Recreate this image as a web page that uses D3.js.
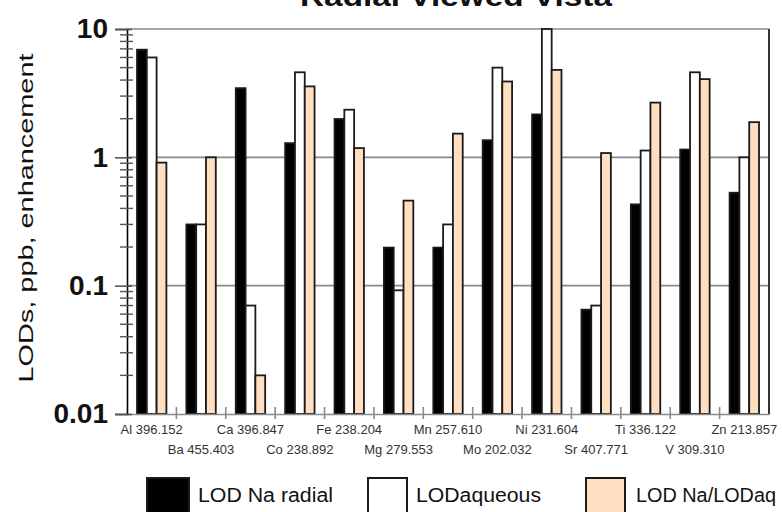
<!DOCTYPE html>
<html><head><meta charset="utf-8">
<script src="https://cdn.jsdelivr.net/npm/d3@7/dist/d3.min.js"></script>
<style>body{margin:0;background:#fff;} svg{display:block;}</style>
</head><body>
<svg id="c" width="782" height="512"></svg>
<script>
const title = "Radial Viewed Vista";
const yTitle = "LODs, ppb, enhancement";
const categories = ["Al 396.152","Ba 455.403","Ca 396.847","Co 238.892","Fe 238.204","Mg 279.553","Mn 257.610","Mo 202.032","Ni 231.604","Sr 407.771","Ti 336.122","V 309.310","Zn 213.857"];
const naRadial = [6.9,0.30,3.46,1.29,1.99,0.198,0.198,1.36,2.16,0.065,0.43,1.15,0.53];
const aqueous  = [6.0,0.30,0.070,4.6,2.35,0.092,0.30,5.0,10,0.070,1.13,4.6,1.0];
const ratio    = [0.91,1.0,0.020,3.57,1.18,0.46,1.53,3.9,4.8,1.08,2.67,4.07,1.88];
const seriesNames = ["LOD Na radial","LODaqueous","LOD Na/LODaq"];
const yTicks = [0.01,0.1,1,10];
const yTickLabels = ["0.01","0.1","1","10"];

const fills = ["#000000","#ffffff","#ffdfbf"];
const svg = d3.select("#c");
const L=127,R=769,T=29,B=414;
const x = d3.scaleBand().domain(categories).range([L,R]).padding(0);
const y = d3.scaleLog().domain([0.01,10]).range([B,T]);
const series=[naRadial,aqueous,ratio];

// title (cropped at top, as in the reference)
svg.append("text").attr("x",456).attr("y",6).attr("text-anchor","middle")
  .attr("font-family","Liberation Sans, Arial, sans-serif").attr("font-weight","bold")
  .attr("font-size",28).attr("textLength",312).attr("lengthAdjust","spacingAndGlyphs")
  .attr("fill","#111").text(title);

// gridlines
svg.append("g").selectAll("line").data([0.1,1,10]).join("line")
  .attr("x1",L).attr("x2",R).attr("y1",d=>y(d)).attr("y2",d=>y(d))
  .attr("stroke","#8a8a8a").attr("stroke-width",1.6);

// bars
const bw=9.8, off=10;
series.forEach((s,si)=>{
  svg.append("g").selectAll("rect").data(s).join("rect")
    .attr("x",(d,i)=>x(categories[i])+off+si*bw)
    .attr("y",d=>y(d))
    .attr("width",bw)
    .attr("height",d=>B-y(d))
    .attr("fill",fills[si]).attr("stroke","#1a1a1a").attr("stroke-width",1.8);
});

// right border
svg.append("line").attr("x1",R).attr("x2",R).attr("y1",T).attr("y2",B)
  .attr("stroke","#333").attr("stroke-width",2);

// x axis
const xAxis = d3.axisBottom(x).tickSize(0).tickFormat("");
const gx = svg.append("g").attr("transform",`translate(0,${B})`).call(xAxis);
gx.select(".domain").attr("stroke","#8a8a8a").attr("stroke-width",1.6);
gx.selectAll(".tick").remove();
svg.append("g").selectAll("line").data(categories.slice(1)).join("line")
  .attr("x1",d=>x(d)).attr("x2",d=>x(d)).attr("y1",B-7).attr("y2",B+5)
  .attr("stroke","#8a8a8a").attr("stroke-width",1.6);
svg.append("g").selectAll("text").data(categories).join("text")
  .attr("x",d=>x(d)+x.bandwidth()/2)
  .attr("y",(d,i)=> i%2===0 ? 434 : 454)
  .attr("text-anchor","middle")
  .attr("font-family","Liberation Sans, Arial, sans-serif").attr("font-size",13)
  .attr("fill","#333").text(d=>d);

// y axis
const gy = svg.append("g").attr("transform",`translate(${L},0)`)
  .call(d3.axisLeft(y).tickValues(yTicks).tickSize(12).tickFormat((d,i)=>yTickLabels[i]));
gy.select(".domain").attr("stroke","#000").attr("stroke-width",1.6);
gy.selectAll(".tick line").attr("stroke","#555").attr("stroke-width",1.6).attr("x2",-12).attr("x1",5);
gy.selectAll(".tick text").attr("x",-19).attr("font-family","Liberation Sans, Arial, sans-serif")
  .attr("font-weight","bold").attr("font-size",28).attr("fill","#111");
const minor=[];
[0.01,0.1,1].forEach(b=>{for(let k=2;k<=9;k++) minor.push(b*k);});
svg.append("g").selectAll("line").data(minor).join("line")
  .attr("x1",L-7).attr("x2",L+6).attr("y1",d=>y(d)).attr("y2",d=>y(d))
  .attr("stroke","#555").attr("stroke-width",1.4);

// y title
svg.append("text").attr("transform","translate(33,218) rotate(-90)")
  .attr("text-anchor","middle").attr("font-family","Liberation Sans, Arial, sans-serif")
  .attr("font-size",21).attr("textLength",329).attr("lengthAdjust","spacingAndGlyphs")
  .attr("fill","#111").text(yTitle);

// legend
const legX=[147,368,586], legTX=[198,416,636], legTL=[135,125,140];
seriesNames.forEach((n,i)=>{
  svg.append("rect").attr("x",legX[i]).attr("y",478).attr("width",i===0?42:39).attr("height",45)
    .attr("fill",fills[i]).attr("stroke","#1a1a1a").attr("stroke-width",2);
  svg.append("text").attr("x",legTX[i]).attr("y",502)
    .attr("font-family","Liberation Sans, Arial, sans-serif").attr("font-size",20)
    .attr("textLength",legTL[i]).attr("lengthAdjust","spacingAndGlyphs")
    .attr("fill","#111").text(n);
});
</script>
</body></html>
